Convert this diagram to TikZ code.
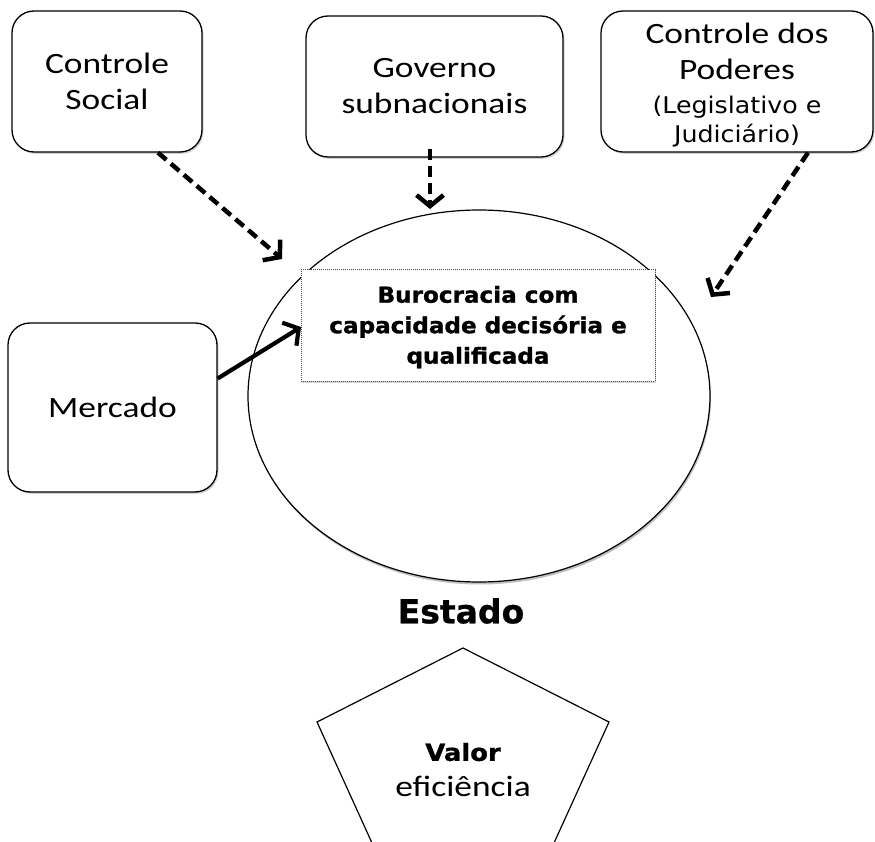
\documentclass[tikz,border=0pt]{standalone}
\usepackage{fontspec}
\setmainfont{Carlito}[FakeStretch=1.2]
\newfontfamily\parf{DejaVu Sans}[FakeStretch=1.1]
\newfontfamily\burf{DejaVu Sans Bold}[FakeStretch=1.05,FakeBold=1.2]
\newfontfamily\estf{DejaVu Sans Bold}[FakeBold=0.8]
\newfontfamily\valf{DejaVu Sans Bold}[FakeStretch=1.1,FakeBold=1.2]
\usetikzlibrary{arrows.meta,shapes.geometric,shadows,calc}
\begin{document}
\begin{tikzpicture}[x=1pt,y=-1pt,
  box/.style={draw=black, line width=1.3pt, rounded corners=22pt, fill=white,
    align=center, inner sep=0pt, font=\fontsize{29.5}{36}\selectfont,
    drop shadow={shadow xshift=1.5pt, shadow yshift=-1.8pt, opacity=0.35}},
  dasharrow/.style={line width=4.5pt, dash pattern=on 11pt off 6pt,
    -{Straight Barb[length=11pt,width=27pt]}},
  solidarrow/.style={line width=4.2pt, -{Straight Barb[length=11pt,width=27pt]}}
]
\useasboundingbox (0,0) rectangle (875,842);
\fill[white] (0,0) rectangle (875,842);

% state ellipse
\node[ellipse, draw=black, line width=1.2pt, fill=white,
  minimum width=462pt, minimum height=372pt,
  drop shadow={shadow xshift=1pt, shadow yshift=-2.5pt, opacity=0.5}] (st) at (479,396) {};

% boxes
\node[box, minimum width=190pt, minimum height=141pt] (cs) at (107,81.5) {Controle\\Social};
\node[box, minimum width=257pt, minimum height=141pt] (gov) at (434.5,86.5) {Governo\\subnacionais};
\node[box, minimum width=272pt, minimum height=141pt] (pod) at (737,81.5)
  {\rule{0pt}{28pt}Controle dos\\Poderes\\[-2pt]{\parf\fontsize{23}{29}\selectfont (Legislativo e}\\[-7pt]{\parf\fontsize{23}{29}\selectfont Judiciário)}};
\node[box, minimum width=209pt, minimum height=169pt] (mer) at (112.5,407.5) {Mercado};

% bureaucracy box
\node[draw=black!70, densely dotted, line width=1pt, fill=white, align=center,
  minimum width=354pt, minimum height=111pt, inner sep=0pt,
  font=\burf\fontsize{22}{30.5}\selectfont,
  drop shadow={shadow xshift=1pt, shadow yshift=-1.5pt, opacity=0.3}] (bur) at (478,325.5)
  {\rule{0pt}{20pt}Burocracia com\\capacidade decisória e\\qualificada};

% Estado label
\node[font=\estf\fontsize{33}{40}\selectfont] (estado) at (461,611) {Estado};

% pentagon
\coordinate (p1) at (463,648);
\coordinate (p2) at (609,722);
\coordinate (p3) at (554,843);
\coordinate (p4) at (372,843);
\coordinate (p5) at (317,722);
\draw[line width=1.2pt, fill=white] (p1) -- (p2) -- (p3) -- (p4) -- (p5) -- cycle;
\node[align=center, font=\fontsize{29.5}{36}\selectfont] (val) at (463,770)
  {{\valf\fontsize{23.5}{36}\selectfont Valor}\\eficiência};

% arrows
\coordinate (csend) at (282,259);
\coordinate (govend) at (430,209);
\coordinate (podend) at (711,297);
\coordinate (merend) at (301,327);
\draw[dasharrow] ($(cs.south)+(51,0)$) -- (csend);
\draw[dasharrow] ($(gov.south)+(-4.5,-9)$) -- (govend);
\draw[dasharrow] ($(pod.south)+(71,0)$) -- (podend);
\draw[solidarrow] ($(mer.east)+(0,-29)$) -- (merend);
\end{tikzpicture}
\end{document}
